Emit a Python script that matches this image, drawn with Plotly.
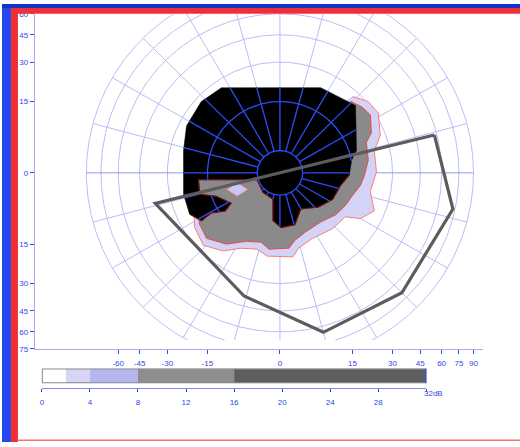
import numpy as np
import plotly.graph_objects as go

# ---- radial scale: eccentricity (deg) -> plot radius (90 deg = 1) ----
K = 12.5
E_MAX = 90.0


def proj(e):
    return np.log10(1 + np.asarray(e, float) / K) / np.log10(1 + E_MAX / K)


def polar_xy(ang, ecc):
    a = np.radians(np.asarray(ang, float))
    r = proj(ecc)
    return r * np.cos(a), r * np.sin(a)


# ---- chart data (meridian angle in deg, eccentricity in deg) ----
X_TICKS = [-60, -45, -30, -15, 0, 15, 30, 45, 60, 75, 90]
Y_TICKS = [60, 45, 30, 15, 0, -15, -30, -45, -60, -75]

RING_ECC = [15, 30, 45, 60, 75, 90]
CENTER_RING = 3.5
MERIDIANS = list(range(0, 360, 15))

# absolute defect (black)
BLACK_ANG = [124.1, 64.8, 42.2, 16.6, 10.2, 358.4, 348.0, 333.0, 318.1, 299.6,
             285.8, 271.0, 261.9, 255.5, 229.6, 196.9, 184.9, 195.2, 200.6, 212.3,
             215.3, 210.7, 211.8, 204.8, 192.8, 166.7, 152.9, 137.3]
BLACK_ECC = [26.4, 22.9, 25.4, 17.3, 15.1, 14.1, 12.0, 11.3, 9.5, 7.3,
             10.2, 10.4, 8.8, 4.4, 4.1, 3.7, 17.9, 18.4, 13.7, 10.9,
             13.4, 17.2, 21.6, 24.4, 24.1, 24.2, 26.6, 27.5]

# 8-16 dB zone (grey)
GRAY_ANG = [45.8, 38.9, 33.0, 24.0, 19.6, 8.3, 358.0, 350.9, 342.5, 333.4, 322.5,
            309.4, 293.4, 282.3, 276.7, 262.0, 255.0, 244.1, 233.5, 222.2, 212.7, 184.8]
GRAY_ECC = [25.1, 27.1, 27.9, 24.6, 21.4, 20.5, 18.8, 17.8, 16.1, 15.3, 14.3,
            12.7, 12.9, 14.3, 16.4, 16.8, 15.1, 16.5, 20.8, 24.2, 22.9, 18.2]

# 4-8 dB zone (lavender fringe)
LAV_ANG = [46.9, 39.4, 31.6, 20.6, 13.6, 0.6, 348.2, 337.7, 329.9, 325.7, 312.9,
           296.2, 283.9, 278.6, 261.3, 253.6, 243.1, 234.5, 223.9, 212.6, 187.9]
LAV_ECC = [27.2, 30.8, 31.4, 27.6, 23.4, 23.2, 21.6, 25.4, 21.8, 17.1, 16.5,
           15.5, 16.9, 19.5, 19.2, 17.6, 19.3, 23.6, 27.2, 25.2, 19.8]

# inner anchor points used to close the zone fills under the black area
INNER_ANG = [150, 60]
INNER_ECC = [12, 12]

# small 4-8 dB island inside the grey zone
PATCH_ANG = [193.1, 208.0, 209.2, 197.5]
PATCH_ECC = [7.6, 6.0, 8.8, 10.5]

# kinetic isopter
ISO_ANG = [14, 348, 315, 285, 254, 194]
ISO_ECC = [58, 73, 69, 65, 39, 38]

# dB legend
LEGEND_EDGES = [0, 2, 4, 8, 16, 32]
LEGEND_COLORS = ["#ffffff", "#d6d6f4", "#b4b6ee", "#8e8e8e", "#5e5e5e"]
LEGEND_TICKS = [0, 4, 8, 12, 16, 20, 24, 28, 32]

# ---- colours / fonts ----
BLUE = "#2f48e8"
AXIS_LINE = "#a4a9f2"
GRID = "#b9bdf4"
GRID_MAIN = "#9098ef"
GRID_DARK = "#2a4cf5"
FONT = dict(family="Liberation Sans, Arial, sans-serif", size=8, color=BLUE)

W, H = 520, 447


def inside_poly(px, py, vx, vy):
    res = np.zeros(np.shape(px), bool)
    n = len(vx)
    j = n - 1
    for i in range(n):
        yi, yj = vy[i], vy[j]
        cond = ((yi > py) != (yj > py)) & (
            px < (vx[j] - vx[i]) * (py - yi) / (yj - yi + 1e-12) + vx[i])
        res ^= cond
        j = i
    return res


def closed(x, y):
    return np.append(x, x[0]), np.append(y, y[0])


fig = go.Figure()
XY2 = dict(xaxis="x2", yaxis="y2", showlegend=False, hoverinfo="skip")

# ---- light polar grid ----
th = np.linspace(0, 2 * np.pi, 721)
gx, gy = [], []
for e in RING_ECC:
    r = proj(e)
    gx += list(r * np.cos(th)) + [np.nan]
    gy += list(r * np.sin(th)) + [np.nan]
r0, r1 = proj(CENTER_RING), proj(E_MAX)
for m in MERIDIANS:
    if m in (0, 180):
        continue
    a = np.radians(m)
    gx += [r0 * np.cos(a), r1 * np.cos(a), np.nan]
    gy += [r0 * np.sin(a), r1 * np.sin(a), np.nan]
fig.add_trace(go.Scatter(x=gx, y=gy, mode="lines", line=dict(color=GRID, width=1), **XY2))
fig.add_trace(go.Scatter(x=[-r1, -r0, np.nan, r0, r1], y=[0, 0, np.nan, 0, 0], mode="lines",
                         line=dict(color=GRID_MAIN, width=1), **XY2))

# ---- defect zones ----
ix, iy = polar_xy(INNER_ANG, INNER_ECC)

lx, ly = polar_xy(LAV_ANG, LAV_ECC)
fig.add_trace(go.Scatter(x=np.r_[lx, ix, lx[:1]], y=np.r_[ly, iy, ly[:1]], fill="toself",
                         fillcolor="#d2d3f5", mode="lines", line=dict(width=0), **XY2))
fig.add_trace(go.Scatter(x=lx, y=ly, mode="lines", line=dict(color="#ff7a7a", width=1), **XY2))

sx, sy = polar_xy(GRAY_ANG, GRAY_ECC)
fig.add_trace(go.Scatter(x=np.r_[sx, ix, sx[:1]], y=np.r_[sy, iy, sy[:1]], fill="toself",
                         fillcolor="#8a8a8a", mode="lines", line=dict(width=0), **XY2))
fig.add_trace(go.Scatter(x=sx, y=sy, mode="lines", line=dict(color="#f04545", width=1), **XY2))

px_, py_ = closed(*polar_xy(PATCH_ANG, PATCH_ECC))
fig.add_trace(go.Scatter(x=px_, y=py_, fill="toself", fillcolor="#c8c8f4", mode="lines",
                         line=dict(color="#f06a6a", width=0.8), **XY2))

bx, by = polar_xy(BLACK_ANG, BLACK_ECC)
cbx, cby = closed(bx, by)
fig.add_trace(go.Scatter(x=cbx, y=cby, fill="toself", fillcolor="#000000", mode="lines",
                         line=dict(color="#000000", width=0.5), **XY2))
fig.add_trace(go.Scatter(x=bx[5:24], y=by[5:24], mode="lines",
                         line=dict(color="#701010", width=1.2), **XY2))

# ---- grid seen over the black area ----
dx, dy = [], []
rr = np.linspace(r0, r1, 600)
for m in MERIDIANS:
    a = np.radians(m)
    x, y = rr * np.cos(a), rr * np.sin(a)
    ins = inside_poly(x, y, bx, by)
    dx += list(np.where(ins, x, np.nan)) + [np.nan]
    dy += list(np.where(ins, y, np.nan)) + [np.nan]
th2 = np.linspace(0, 2 * np.pi, 1441)
for e in [CENTER_RING, 15, 30]:
    r = proj(e)
    x, y = r * np.cos(th2), r * np.sin(th2)
    ins = inside_poly(x, y, bx, by)
    dx += list(np.where(ins, x, np.nan)) + [np.nan]
    dy += list(np.where(ins, y, np.nan)) + [np.nan]
fig.add_trace(go.Scatter(x=dx, y=dy, mode="lines", line=dict(color=GRID_DARK, width=1.3),
                         connectgaps=False, **XY2))

# ---- isopter ----
qx, qy = closed(*polar_xy(ISO_ANG, ISO_ECC))
fig.add_trace(go.Scatter(x=qx, y=qy, mode="lines", line=dict(color="#5c5c5c", width=3.2), **XY2))

# ---- ruler axes (empty trace keeps the subplot) ----
fig.add_trace(go.Scatter(x=[None], y=[None], mode="lines", xaxis="x", yaxis="y",
                         showlegend=False, hoverinfo="skip"))

# ---- dB legend bar ----
for i, c in enumerate(LEGEND_COLORS):
    fig.add_trace(go.Bar(orientation="h", y=[0], x=[LEGEND_EDGES[i + 1] - LEGEND_EDGES[i]],
                         base=[LEGEND_EDGES[i]], width=1, marker=dict(color=c, line=dict(width=0)),
                         xaxis="x3", yaxis="y3", showlegend=False, hoverinfo="skip"))

# ---- layout ----
upp = (proj(75) + proj(60)) / 342.0  # plot units per pixel
x_lo, x_hi = -246 * upp, 204 * upp
y2_lo = proj(60) - 333 * upp

xt = [np.sign(t) * proj(abs(t)) for t in X_TICKS]
yt = [np.sign(t) * proj(abs(t)) for t in Y_TICKS]

axis_common = dict(showgrid=False, zeroline=False, showline=True, linecolor=AXIS_LINE,
                   linewidth=1, ticks="outside", ticklen=4, tickcolor=BLUE, tickwidth=1,
                   tickfont=FONT, fixedrange=True)

fig.update_layout(
    width=W, height=H, autosize=False,
    margin=dict(l=0, r=0, t=0, b=0),
    paper_bgcolor="white", plot_bgcolor="rgba(0,0,0,0)",
    showlegend=False, barmode="overlay",
    xaxis=dict(domain=[33 / W, 483 / W], range=[x_lo, x_hi], anchor="y",
               tickmode="array", tickvals=xt, ticktext=[str(t) for t in X_TICKS],
               ticklabelstandoff=2, **axis_common),
    yaxis=dict(domain=[1 - 352 / H, 1 - 10 / H], range=[-proj(75), proj(60)], anchor="x",
               tickmode="array", tickvals=yt, ticktext=[str(abs(t)) for t in Y_TICKS],
               **axis_common),
    xaxis2=dict(domain=[33 / W, 483 / W], range=[x_lo, x_hi], anchor="y2", visible=False,
                fixedrange=True),
    yaxis2=dict(domain=[1 - 343 / H, 1 - 10 / H], range=[y2_lo, proj(60)], anchor="x2",
                visible=False, fixedrange=True),
    xaxis3=dict(domain=[40 / W, 426 / W], range=[0, 32], anchor="free", position=1 - 392 / H,
                tickmode="array", tickvals=LEGEND_TICKS,
                ticktext=[str(t) for t in LEGEND_TICKS[:-1]] + [""],
                showgrid=False, zeroline=False, showline=True, linecolor="#7f88f0",
                ticks="outside", ticklen=3, tickcolor=BLUE, tickfont=FONT,
                ticklabelstandoff=3, fixedrange=True),
    yaxis3=dict(domain=[1 - 387 / H, 1 - 372 / H], range=[-0.5, 0.5], anchor="x3",
                visible=False, fixedrange=True),
)

fig.add_annotation(x=32, xref="x3", y=1 - 404 / H, yref="paper", text="32dB",
                   showarrow=False, xanchor="left", xshift=-4, font=FONT)

# legend bar frame
fig.add_shape(type="rect", xref="x3", yref="y3", x0=0, x1=32, y0=-0.5, y1=0.5,
              line=dict(color="#8c8c8c", width=2))
fig.add_shape(type="line", xref="x3", yref="y3", x0=32, x1=32, y0=-0.5, y1=0.5,
              line=dict(color="#1f3cff", width=2))

# window frame
frame = [
    (0, 9, 0, H, "#2448ee"),
    (0, W, 0, 4, "#1233c8"),
    (9, 16, 4, H, "#ef2f35"),
    (9, W, 4, 10, "#ef2f35"),
    (16, W, 444.5, 446, "#ff7070"),
]
for x0, x1, y0, y1, col in frame:
    fig.add_shape(type="rect", xref="paper", yref="paper", x0=x0 / W, x1=x1 / W,
                  y0=1 - y1 / H, y1=1 - y0 / H, fillcolor=col, line=dict(width=0),
                  layer="above")

fig.write_html("out.html")
